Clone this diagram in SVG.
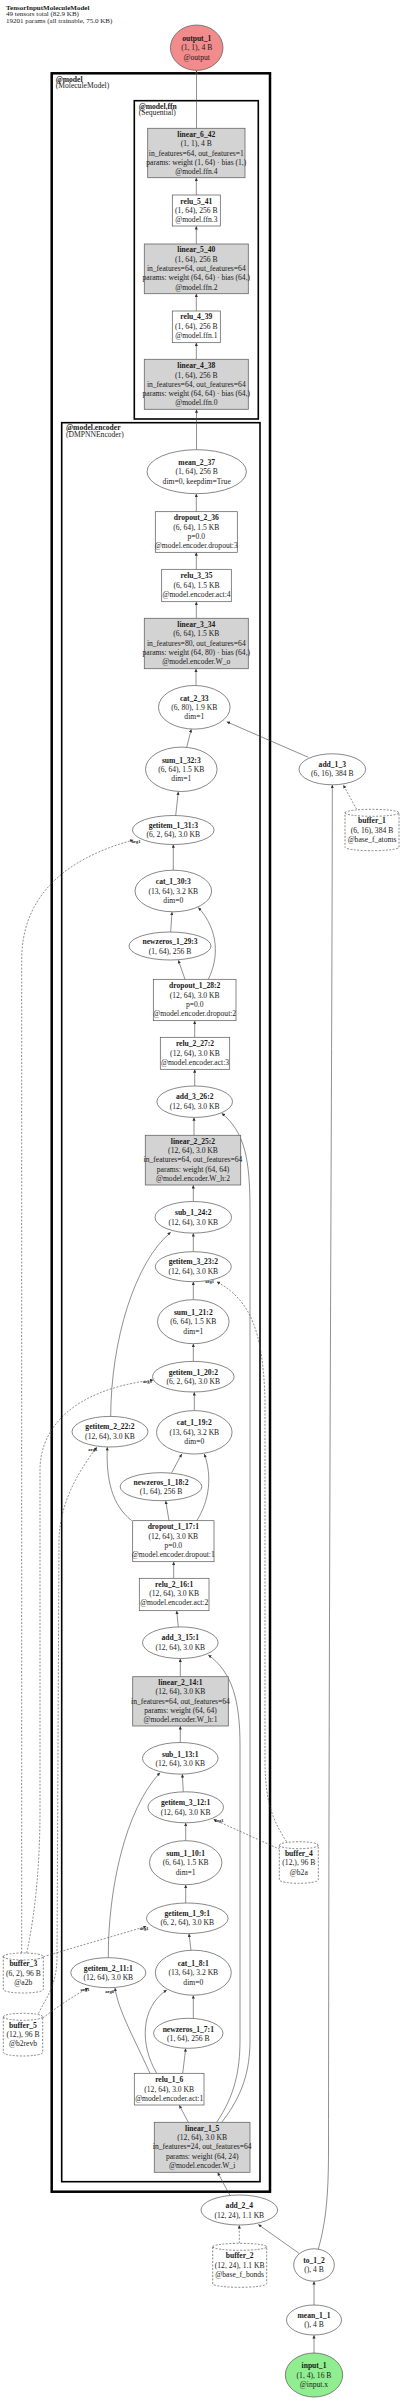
<svg xmlns="http://www.w3.org/2000/svg" width="400" height="2400" viewBox="0 0 400 2400">
<style>
text{font-family:"Liberation Serif","Times New Roman",serif;font-size:7.6px;fill:#1a1a1a;text-anchor:middle}
.b{font-weight:bold}
.s{text-anchor:start}
.ti{font-size:7px}
.el{font-size:4.6px;font-weight:bold}
.nd{fill:#fff;stroke:#555;stroke-width:0.7}
.op{fill:#d3d3d3;stroke:#666;stroke-width:0.8}
.buf{fill:#fff;stroke:#555;stroke-width:0.7;stroke-dasharray:2,1.5}
.e{fill:none;stroke:#444;stroke-width:0.6;marker-end:url(#ah)}
.d{stroke-dasharray:2,1.5}
.cl{fill:none;stroke:#000}
</style>
<defs>
<marker id="ah" viewBox="0 0 10 10" refX="10" refY="5" markerWidth="3.6" markerHeight="3.2" markerUnits="userSpaceOnUse" orient="auto"><path d="M0,0 L10,5 L0,10 z" fill="#333" stroke="none"/></marker>
</defs>
<rect width="400" height="2400" fill="#fff"/>
<g id="title">
<text class="s b ti" x="6" y="10">TensorInputMoleculeModel</text>
<text class="s ti" x="6" y="16.3">49 tensors total (82.9 KB)</text>
<text class="s ti" x="6" y="22.5">19201 params (all trainable, 75.0 KB)</text>
</g>
<g id="clusters">
<g id="cluster-model"><rect class="cl" x="51.7" y="73.3" width="218.3" height="2118.4" stroke-width="2.5"/>
<text class="s b" x="55.7" y="81.5">@model</text><text class="s" x="55.7" y="88">(MoleculeModel)</text></g>
<g id="cluster-ffn"><rect class="cl" x="134.3" y="100.7" width="124" height="318.3" stroke-width="1.6"/>
<text class="s b" x="138.7" y="108.5">@model.ffn</text><text class="s" x="138.7" y="115.2">(Sequential)</text></g>
<g id="cluster-encoder"><rect class="cl" x="61.7" y="422.7" width="198.3" height="1759" stroke-width="1.6"/>
<text class="s b" x="66" y="429.8">@model.encoder</text><text class="s" x="66" y="436.8">(DMPNNEncoder)</text></g>
</g>
<g id="edges">
<path class="e" d="M196.5,128.3 V70.6"/>
<path class="e" d="M196.3,195 V177.9"/>
<path class="e" d="M196.3,244 V226.2"/>
<path class="e" d="M196.3,311 V293.9"/>
<path class="e" d="M196.3,359.3 V342.9"/>
<path class="e" d="M196.5,449.7 V409.5"/>
<path class="e" d="M196.3,511.7 V493.9"/>
<path class="e" d="M196.3,569.3 V552.5"/>
<path class="e" d="M196.3,618.3 V601.9"/>
<path class="e" d="M196,685.5 V668.9"/>
<path class="e" d="M186.7,747.3 L191.3,729.2"/>
<path class="e" d="M308.3,757.3 L226.7,721.8"/>
<path class="e d" d="M356.7,809.3 L343.3,785"/>
<path class="e" d="M175.7,815.6 L178.3,791.7"/>
<path class="e" d="M173.3,870.2 V844.6"/>
<path class="e" d="M170.7,932 L172,912"/>
<path class="e" d="M185,979.3 L178.3,960.2"/>
<path class="e" d="M208.3,979.3 C219,958 219,930 198.3,907.5"/>
<path class="e" d="M194.7,1037.3 V1020.9"/>
<path class="e" d="M194.7,1086 V1069.5"/>
<path class="e" d="M194,1135.3 V1117.6"/>
<path class="e" d="M193.3,1201.5 V1185.2"/>
<path class="e" d="M193.3,1251.7 V1233.3"/>
<path class="e" d="M193.3,1299.7 V1281.9"/>
<path class="e" d="M193.3,1361.4 V1343.9"/>
<path class="e" d="M194.3,1410.6 V1392.2"/>
<path class="e" d="M110.7,1416.4 C111,1340 135,1262 170.7,1232.3"/>
<path class="e" d="M171.7,1472.7 L181.7,1454"/>
<path class="e" d="M169,1520.7 L165.7,1500.9"/>
<path class="e" d="M196.7,1520.7 C210,1500 212,1475 204.3,1454"/>
<path class="e" d="M131.7,1520.7 C112,1505 106,1480 107.3,1447.2"/>
<path class="e" d="M173.7,1578.3 V1561.9"/>
<path class="e" d="M178.3,1626.9 L176.7,1610.9"/>
<path class="e" d="M180.3,1676.7 V1658.7"/>
<path class="e" d="M180.3,1742.5 V1726.2"/>
<path class="e" d="M183.3,1791.8 L182.3,1774.3"/>
<path class="e" d="M185.7,1840.7 V1823"/>
<path class="e" d="M185.7,1903 V1884.9"/>
<path class="e" d="M191,1950.2 L189,1933.8"/>
<path class="e" d="M108.3,1957.7 C108,1890 125,1810 160,1772.7"/>
<path class="e" d="M193.3,2018.3 V1995.4"/>
<path class="e" d="M182.7,2073.3 L185.7,2048.5"/>
<path class="e" d="M150,2073.3 C135,2040 118,2010 115,1987.9"/>
<path class="e" d="M156.7,2073.3 C140,2045 140,2008 166.7,1990"/>
<path class="e" d="M188.3,2122.3 L179.3,2105.2"/>
<path class="e" d="M216.7,2122.3 C235,2095 240,2070 240,2040 L240,1745 C240,1700 232,1672 208.3,1655"/>
<path class="e" d="M221.7,2122.3 C243,2095 250,2070 250,2040 L250,1210 C250,1160 245,1132 221.7,1113.3"/>
<path class="e" d="M230,2195.5 L217.7,2172.5"/>
<path class="e d" d="M239.3,2243.3 V2225.2"/>
<path class="e" d="M299,2253.3 L258.3,2224.5"/>
<path class="e" d="M318.3,2249 C326,2222 328.5,2195 328.5,2150 C329,1500 332.3,1000 332.3,785"/>
<path class="e" d="M314,2305 V2281.4"/>
<path class="e" d="M314,2353 V2335.2"/>
<path class="e d" d="M21.7,1953 L21.7,960 C21.7,900 60,860 133.3,840"/>
<path class="e d" d="M26.7,1953 C36,1910 40,1860 40,1810 L40,1470 C40,1430 70,1390 153.3,1380"/>
<path class="e d" d="M43.3,1956.7 L146.5,1926.3"/>
<path class="e d" d="M280,1849.3 L213.3,1819.3"/>
<path class="e d" d="M286.7,1841.7 C272,1820 265,1800 265,1760 L265,1400 C263,1330 250,1300 216.7,1281.7"/>
<path class="e d" d="M42.7,2018 C60,2005 75,1995 88.3,1988"/>
<path class="e d" d="M38.3,2013.5 C48,1995 56,1985 57,1960 L59,1540 C60,1500 80,1470 96.7,1447.2"/>
<text class="el" x="136" y="843.3">arg1</text>
<text class="el" x="147.5" y="1383.3">arg1</text>
<text class="el" x="209.7" y="1283.3">arg1</text>
<text class="el" x="92.8" y="1450.8">arg1</text>
<text class="el" x="219.2" y="1822">arg1</text>
<text class="el" x="144.2" y="1929.5">arg1</text>
<text class="el" x="85" y="1990.5">arg1</text>
<text class="el" x="109.7" y="1992.5">arg0</text>
</g>
<g id="node-output_1"><ellipse cx="196.7" cy="47.7" rx="26.3" ry="22.7" fill="#f28b8b" stroke="#555" stroke-width="0.7"/>
<text class="b" x="196.7" y="40.8">output_1</text><text x="196.7" y="50.2">(1, 1), 4 B</text><text x="196.7" y="59.8">@output</text></g>
<g id="node-linear_6_42"><rect class="op" x="147.7" y="128.3" width="97.3" height="49.4"/>
<text class="b" x="196.3" y="136.8">linear_6_42</text><text x="196.3" y="146.2">(1, 1), 4 B</text><text x="196.3" y="155.5">in_features=64, out_features=1</text><text x="196.3" y="164.8">params: weight (1, 64) · bias (1,)</text><text x="196.3" y="174.2">@model.ffn.4</text></g>
<g id="node-relu_5_41"><rect class="nd" x="172.3" y="195" width="48" height="31"/>
<text class="b" x="196.3" y="204.2">relu_5_41</text><text x="196.3" y="212.8">(1, 64), 256 B</text><text x="196.3" y="222.2">@model.ffn.3</text></g>
<g id="node-linear_5_40"><rect class="op" x="144.3" y="244" width="104" height="49.7"/>
<text class="b" x="196.3" y="252.2">linear_5_40</text><text x="196.3" y="261.8">(1, 64), 256 B</text><text x="196.3" y="271.2">in_features=64, out_features=64</text><text x="196.3" y="280.2">params: weight (64, 64) · bias (64,)</text><text x="196.3" y="289.5">@model.ffn.2</text></g>
<g id="node-relu_4_39"><rect class="nd" x="172.3" y="311" width="48" height="31.7"/>
<text class="b" x="196.3" y="319.2">relu_4_39</text><text x="196.3" y="328.8">(1, 64), 256 B</text><text x="196.3" y="338.2">@model.ffn.1</text></g>
<g id="node-linear_4_38"><rect class="op" x="144.3" y="359.3" width="104" height="50"/>
<text class="b" x="196.3" y="368.2">linear_4_38</text><text x="196.3" y="377.5">(1, 64), 256 B</text><text x="196.3" y="386.8">in_features=64, out_features=64</text><text x="196.3" y="396.2">params: weight (64, 64) · bias (64,)</text><text x="196.3" y="405.2">@model.ffn.0</text></g>
<g id="node-mean_2_37"><ellipse class="nd" cx="196.7" cy="471.7" rx="49.7" ry="22"/>
<text class="b" x="196.7" y="464.8">mean_2_37</text><text x="196.7" y="474.2">(1, 64), 256 B</text><text x="196.7" y="483.5">dim=0, keepdim=True</text></g>
<g id="node-dropout_2_36"><rect class="nd" x="155.3" y="511.7" width="82" height="40.6"/>
<text class="b" x="196.3" y="519.8">dropout_2_36</text><text x="196.3" y="529.5">(6, 64), 1.5 KB</text><text x="196.3" y="538.5">p=0.0</text><text x="196.3" y="547.8">@model.encoder.dropout:3</text></g>
<g id="node-relu_3_35"><rect class="nd" x="161.7" y="569.3" width="69.6" height="32.4"/>
<text class="b" x="196.5" y="577.8">relu_3_35</text><text x="196.5" y="587.5">(6, 64), 1.5 KB</text><text x="196.5" y="596.8">@model.encoder.act:4</text></g>
<g id="node-linear_3_34"><rect class="op" x="144.3" y="618.3" width="104" height="50.4"/>
<text class="b" x="196.3" y="626.8">linear_3_34</text><text x="196.3" y="636.2">(6, 64), 1.5 KB</text><text x="196.3" y="645.5">in_features=80, out_features=64</text><text x="196.3" y="654.8">params: weight (64, 80) · bias (64,)</text><text x="196.3" y="664.2">@model.encoder.W_o</text></g>
<g id="node-cat_2_33"><ellipse class="nd" cx="194.3" cy="707.3" rx="35.8" ry="21.8"/>
<text class="b" x="194.3" y="700.5">cat_2_33</text><text x="194.3" y="709.8">(6, 80), 1.9 KB</text><text x="194.3" y="719.2">dim=1</text></g>
<g id="node-sum_1_32_3"><ellipse class="nd" cx="181.3" cy="769.3" rx="35.8" ry="22.2"/>
<text class="b" x="181.3" y="762.5">sum_1_32:3</text><text x="181.3" y="771.8">(6, 64), 1.5 KB</text><text x="181.3" y="781.2">dim=1</text></g>
<g id="node-add_1_3"><ellipse class="nd" cx="332.3" cy="769.3" rx="33.3" ry="15.5"/>
<text class="b" x="332.3" y="766.5">add_1_3</text><text x="332.3" y="776.2">(6, 16), 384 B</text></g>
<g id="node-buffer_1"><path class="buf" d="M345,812.8 A27,3.5 0 0 1 399,812.8 L399,847.2 A27,3.5 0 0 1 345,847.2 Z M345,812.8 A27,3.5 0 0 0 399,812.8"/>
<text class="b" x="372" y="823.2">buffer_1</text><text x="372" y="832.8">(6, 16), 384 B</text><text x="372" y="841.8">@base_f_atoms</text></g>
<g id="node-getitem_1_31_3"><ellipse class="nd" cx="173.3" cy="830" rx="40.8" ry="14.5"/>
<text class="b" x="173.3" y="827.5">getitem_1_31:3</text><text x="173.3" y="836.8">(6, 2, 64), 3.0 KB</text></g>
<g id="node-cat_1_30_3"><ellipse class="nd" cx="173.3" cy="891" rx="38.3" ry="20.8"/>
<text class="b" x="173.3" y="884.2">cat_1_30:3</text><text x="173.3" y="893.8">(13, 64), 3.2 KB</text><text x="173.3" y="902.8">dim=0</text></g>
<g id="node-newzeros_1_29_3"><ellipse class="nd" cx="170" cy="946" rx="41" ry="14"/>
<text class="b" x="170" y="944.2">newzeros_1_29:3</text><text x="170" y="953.5">(1, 64), 256 B</text></g>
<g id="node-dropout_1_28_2"><rect class="nd" x="153.3" y="979.3" width="82.7" height="41.4"/>
<text class="b" x="194.7" y="987.8">dropout_1_28:2</text><text x="194.7" y="997.5">(12, 64), 3.0 KB</text><text x="194.7" y="1006.5">p=0.0</text><text x="194.7" y="1016.2">@model.encoder.dropout:2</text></g>
<g id="node-relu_2_27_2"><rect class="nd" x="160.3" y="1037.3" width="69.4" height="32"/>
<text class="b" x="195" y="1046.2">relu_2_27:2</text><text x="195" y="1055.8">(12, 64), 3.0 KB</text><text x="195" y="1064.8">@model.encoder.act:3</text></g>
<g id="node-add_3_26_2"><ellipse class="nd" cx="194.7" cy="1101.7" rx="37.8" ry="15.7"/>
<text class="b" x="194.7" y="1099.2">add_3_26:2</text><text x="194.7" y="1108.5">(12, 64), 3.0 KB</text></g>
<g id="node-linear_2_25_2"><rect class="op" x="145.3" y="1135.3" width="95.4" height="49.7"/>
<text class="b" x="193" y="1143.5">linear_2_25:2</text><text x="193" y="1152.8">(12, 64), 3.0 KB</text><text x="193" y="1162.2">in_features=64, out_features=64</text><text x="193" y="1171.5">params: weight (64, 64)</text><text x="193" y="1180.8">@model.encoder.W_h:2</text></g>
<g id="node-sub_1_24_2"><ellipse class="nd" cx="193.3" cy="1217.3" rx="38.3" ry="15.8"/>
<text class="b" x="193.3" y="1215.2">sub_1_24:2</text><text x="193.3" y="1224.8">(12, 64), 3.0 KB</text></g>
<g id="node-getitem_3_23_2"><ellipse class="nd" cx="193.3" cy="1266.7" rx="38" ry="15"/>
<text class="b" x="193.3" y="1264.2">getitem_3_23:2</text><text x="193.3" y="1273.5">(12, 64), 3.0 KB</text></g>
<g id="node-sum_1_21_2"><ellipse class="nd" cx="193.3" cy="1321.7" rx="35.8" ry="22"/>
<text class="b" x="193.3" y="1314.8">sum_1_21:2</text><text x="193.3" y="1324.2">(6, 64), 1.5 KB</text><text x="193.3" y="1333.5">dim=1</text></g>
<g id="node-getitem_1_20_2"><ellipse class="nd" cx="193.3" cy="1376.7" rx="40.8" ry="15.3"/>
<text class="b" x="193.3" y="1374.8">getitem_1_20:2</text><text x="193.3" y="1384.2">(6, 2, 64), 3.0 KB</text></g>
<g id="node-cat_1_19_2"><ellipse class="nd" cx="194.3" cy="1432.3" rx="37.8" ry="21.7"/>
<text class="b" x="194.3" y="1425.2">cat_1_19:2</text><text x="194.3" y="1434.8">(13, 64), 3.2 KB</text><text x="194.3" y="1444.2">dim=0</text></g>
<g id="node-getitem_2_22_2"><ellipse class="nd" cx="110" cy="1431.7" rx="38" ry="15.3"/>
<text class="b" x="110" y="1429.2">getitem_2_22:2</text><text x="110" y="1438.5">(12, 64), 3.0 KB</text></g>
<g id="node-newzeros_1_18_2"><ellipse class="nd" cx="161" cy="1486.7" rx="40.8" ry="14"/>
<text class="b" x="161" y="1484.8">newzeros_1_18:2</text><text x="161" y="1494.2">(1, 64), 256 B</text></g>
<g id="node-dropout_1_17_1"><rect class="nd" x="132.7" y="1520.7" width="81.3" height="41"/>
<text class="b" x="173.3" y="1529.2">dropout_1_17:1</text><text x="173.3" y="1538.5">(12, 64), 3.0 KB</text><text x="173.3" y="1547.8">p=0.0</text><text x="173.3" y="1557.2">@model.encoder.dropout:1</text></g>
<g id="node-relu_2_16_1"><rect class="nd" x="139.3" y="1578.3" width="69.7" height="32.4"/>
<text class="b" x="174.2" y="1586.5">relu_2_16:1</text><text x="174.2" y="1595.8">(12, 64), 3.0 KB</text><text x="174.2" y="1605.1">@model.encoder.act:2</text></g>
<g id="node-add_3_15_1"><ellipse class="nd" cx="180.3" cy="1642.7" rx="37.8" ry="15.8"/>
<text class="b" x="180.3" y="1640.2">add_3_15:1</text><text x="180.3" y="1649.8">(12, 64), 3.0 KB</text></g>
<g id="node-linear_2_14_1"><rect class="op" x="132.7" y="1676.7" width="95.6" height="49.3"/>
<text class="b" x="180.5" y="1684.8">linear_2_14:1</text><text x="180.5" y="1694.2">(12, 64), 3.0 KB</text><text x="180.5" y="1703.5">in_features=64, out_features=64</text><text x="180.5" y="1712.8">params: weight (64, 64)</text><text x="180.5" y="1722.2">@model.encoder.W_h:1</text></g>
<g id="node-sub_1_13_1"><ellipse class="nd" cx="180.3" cy="1758.3" rx="37.8" ry="15.8"/>
<text class="b" x="180.3" y="1756.5">sub_1_13:1</text><text x="180.3" y="1765.8">(12, 64), 3.0 KB</text></g>
<g id="node-getitem_3_12_1"><ellipse class="nd" cx="185.7" cy="1807.3" rx="37.8" ry="15.5"/>
<text class="b" x="185.7" y="1805.2">getitem_3_12:1</text><text x="185.7" y="1814.5">(12, 64), 3.0 KB</text></g>
<g id="node-sum_1_10_1"><ellipse class="nd" cx="185.7" cy="1862.7" rx="36.2" ry="22"/>
<text class="b" x="185.7" y="1855.8">sum_1_10:1</text><text x="185.7" y="1865.2">(6, 64), 1.5 KB</text><text x="185.7" y="1874.5">dim=1</text></g>
<g id="node-getitem_1_9_1"><ellipse class="nd" cx="187.3" cy="1918.3" rx="40.8" ry="15.3"/>
<text class="b" x="187.3" y="1915.8">getitem_1_9:1</text><text x="187.3" y="1925.2">(6, 2, 64), 3.0 KB</text></g>
<g id="node-cat_1_8_1"><ellipse class="nd" cx="193.3" cy="1972.7" rx="38" ry="22.5"/>
<text class="b" x="193.3" y="1965.8">cat_1_8:1</text><text x="193.3" y="1975.3">(13, 64), 3.2 KB</text><text x="193.3" y="1984.8">dim=0</text></g>
<g id="node-getitem_2_11_1"><ellipse class="nd" cx="108.3" cy="1972.7" rx="37.5" ry="15"/>
<text class="b" x="108.3" y="1970.8">getitem_2_11:1</text><text x="108.3" y="1980.2">(12, 64), 3.0 KB</text></g>
<g id="node-buffer_3"><path class="buf" d="M3.3,1956.5 A20,3.5 0 0 1 43.3,1956.5 L43.3,1989.5 A20,3.5 0 0 1 3.3,1989.5 Z M3.3,1956.5 A20,3.5 0 0 0 43.3,1956.5"/>
<text class="b" x="23.3" y="1965.8">buffer_3</text><text x="23.3" y="1975.5">(6, 2), 96 B</text><text x="23.3" y="1985.2">@a2b</text></g>
<g id="node-buffer_4"><path class="buf" d="M279.3,1845.2 A19.5,3.5 0 0 1 318.3,1845.2 L318.3,1879.8 A19.5,3.5 0 0 1 279.3,1879.8 Z M279.3,1845.2 A19.5,3.5 0 0 0 318.3,1845.2"/>
<text class="b" x="298.8" y="1855.8">buffer_4</text><text x="298.8" y="1865.2">(12,), 96 B</text><text x="298.8" y="1874.5">@b2a</text></g>
<g id="node-buffer_5"><path class="buf" d="M3.3,2016.8 A19.7,3.5 0 0 1 42.7,2016.8 L42.7,2052.5 A19.7,3.5 0 0 1 3.3,2052.5 Z M3.3,2016.8 A19.7,3.5 0 0 0 42.7,2016.8"/>
<text class="b" x="23" y="2027.5">buffer_5</text><text x="23" y="2036.8">(12,), 96 B</text><text x="23" y="2046.2">@b2revb</text></g>
<g id="node-newzeros_1_7_1"><ellipse class="nd" cx="188.3" cy="2033.3" rx="34.7" ry="15"/>
<text class="b" x="188.3" y="2031.5">newzeros_1_7:1</text><text x="188.3" y="2041.2">(1, 64), 256 B</text></g>
<g id="node-relu_1_6"><rect class="nd" x="134.3" y="2073.3" width="69.7" height="31.7"/>
<text class="b" x="169.2" y="2081.8">relu_1_6</text><text x="169.2" y="2091.5">(12, 64), 3.0 KB</text><text x="169.2" y="2100.8">@model.encoder.act:1</text></g>
<g id="node-linear_1_5"><rect class="op" x="154.3" y="2122.3" width="95.7" height="50"/>
<text class="b" x="202.2" y="2130.5">linear_1_5</text><text x="202.2" y="2139.8">(12, 64), 3.0 KB</text><text x="202.2" y="2149.2">in_features=24, out_features=64</text><text x="202.2" y="2158.5">params: weight (64, 24)</text><text x="202.2" y="2167.8">@model.encoder.W_i</text></g>
<g id="node-add_2_4"><ellipse class="nd" cx="239.3" cy="2210" rx="38.3" ry="15"/>
<text class="b" x="239.3" y="2207.5">add_2_4</text><text x="239.3" y="2217.5">(12, 24), 1.1 KB</text></g>
<g id="node-buffer_2"><path class="buf" d="M212.7,2246.8 A27,3.5 0 0 1 266.7,2246.8 L266.7,2283.8 A27,3.5 0 0 1 212.7,2283.8 Z M212.7,2246.8 A27,3.5 0 0 0 266.7,2246.8"/>
<text class="b" x="239.7" y="2257.5">buffer_2</text><text x="239.7" y="2267.5">(12, 24), 1.1 KB</text><text x="239.7" y="2276.5">@base_f_bonds</text></g>
<g id="node-to_1_2"><ellipse class="nd" cx="314" cy="2265" rx="20.3" ry="16.2"/>
<text class="b" x="314" y="2262.5">to_1_2</text><text x="314" y="2271.8">(), 4 B</text></g>
<g id="node-mean_1_1"><ellipse class="nd" cx="314" cy="2320" rx="27.5" ry="15"/>
<text class="b" x="314" y="2317.5">mean_1_1</text><text x="314" y="2327.2">(), 4 B</text></g>
<g id="node-input_1"><ellipse cx="314" cy="2375" rx="28.7" ry="22" fill="#90ee90" stroke="#555" stroke-width="0.7"/>
<text class="b" x="314" y="2368.2">input_1</text><text x="314" y="2377.5">(1, 4), 16 B</text><text x="314" y="2386.8">@input.x</text></g>
</svg>
